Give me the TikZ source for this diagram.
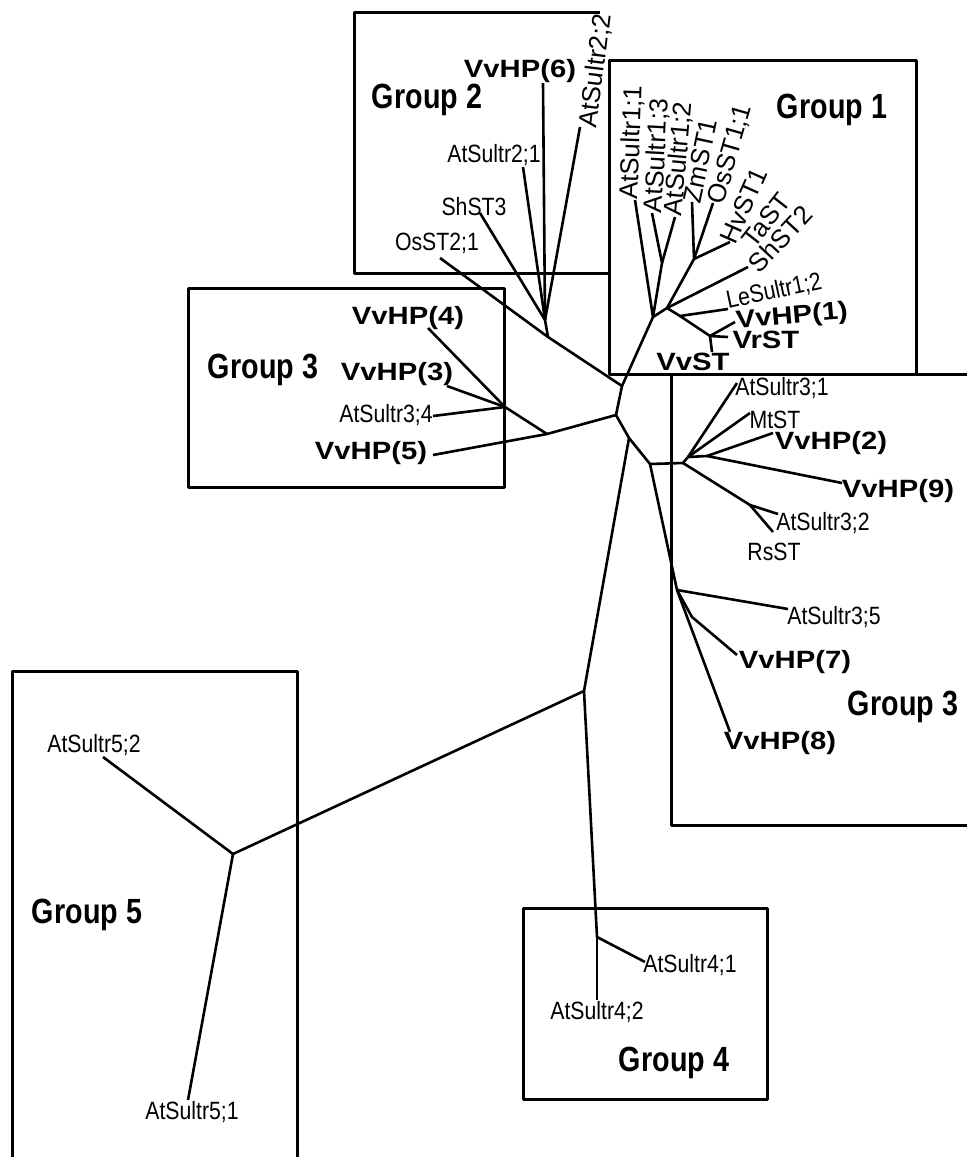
\documentclass[tikz,border=0pt]{standalone}
\usepackage{fontspec}
\setmainfont{Liberation Sans}
\newfontfamily\narrowfont[FakeStretch=0.85]{Liberation Sans}
\newfontfamily\widefont[FakeStretch=1.17]{Liberation Sans}
\newfontfamily\groupfont[FakeStretch=0.82]{Liberation Sans}

\begin{document}
\begin{tikzpicture}[x=1pt, y=-1pt, line width=2.6pt, line join=round,
    box/.style={line width=3pt},
    leaf/.style={font=\narrowfont\fontsize{25}{25}\selectfont, inner sep=0pt},
    tilt/.style={font=\fontsize{26}{26}\selectfont, inner sep=0pt, anchor=west},
    grape/.style={font=\widefont\bfseries\fontsize{25}{25}\selectfont, inner sep=0pt},
    groupname/.style={font=\groupfont\bfseries\fontsize{35}{35}\selectfont, inner sep=0pt}]
	\useasboundingbox (0,0) rectangle (967,1157);

	% Draw the boxes
	\draw[box] (609,60) rectangle (916,374);
	\draw[box] (600,12) -- (354,12) -- (354,273) -- (609,273);
	\draw[box] (188,288) rectangle (504,487);
	\draw[box] (967,374) -- (671,374) -- (671,825) -- (967,825);
	\draw[box] (523,908) rectangle (767,1099);
	\draw[box] (12,1157) -- (12,671) -- (297,671) -- (297,1157);

	\node[groupname] (grp1) at (832,110) {Group 1};
	\node[groupname] (grp2) at (427,100) {Group 2};
	\node[groupname] (grp3a) at (263,370) {Group 3};
	\node[groupname] (grp3b) at (903,707) {Group 3};
	\node[groupname] (grp4) at (674,1063) {Group 4};
	\node[groupname] (grp5) at (87,915) {Group 5};

	% Inner points of the tree
	\coordinate (root) at (622,386);
	\coordinate (mid) at (616,415);
	\coordinate (low) at (629,438);
	\coordinate (right) at (650,464);
	\coordinate (fork) at (584,691);
	\coordinate (g1a) at (653,317);
	\coordinate (g1b) at (662,263);
	\coordinate (g1c) at (667,308);
	\coordinate (g1d) at (694,259);
	\coordinate (g1f) at (680,316);
	\coordinate (g1g) at (710,336);
	\coordinate (g2) at (548,337);
	\coordinate (g2f) at (545,320);
	\coordinate (g3a) at (547,434);
	\coordinate (g3b) at (505,407);
	\coordinate (r1) at (683,463);
	\coordinate (r2) at (688,457);
	\coordinate (r3) at (707,456);
	\coordinate (r4) at (750,505);
	\coordinate (r5) at (677,590);
	\coordinate (r6) at (692,617);
	\coordinate (g4) at (597,937);
	\coordinate (g5) at (233,854);

	% Tips of the branches
	\coordinate (tAt11) at (635,200);
	\coordinate (tAt13) at (652,213);
	\coordinate (tAt12) at (675,217);
	\coordinate (tZm) at (692,202);
	\coordinate (tOs11) at (713,203);
	\coordinate (tHv) at (730,242);
	\coordinate (tSh2) at (748,267);
	\coordinate (tLe) at (728,309);
	\coordinate (tHP1) at (735,322);
	\coordinate (tVr) at (728,337);
	\coordinate (tVv) at (712,352);
	\coordinate (tOs21) at (440,258);
	\coordinate (tSh3) at (480,213);
	\coordinate (tAt21) at (523,167);
	\coordinate (tHP6) at (543,83);
	\coordinate (tAt22) at (580,127);
	\coordinate (tHP4) at (428,328);
	\coordinate (tHP3) at (447,386);
	\coordinate (tAt34) at (433,416);
	\coordinate (tHP5) at (433,455);
	\coordinate (tAt31) at (737,383);
	\coordinate (tMt) at (750,413);
	\coordinate (tHP2) at (773,433);
	\coordinate (tHP9) at (842,483);
	\coordinate (tAt32) at (778,514);
	\coordinate (tRs) at (773,532);
	\coordinate (tAt35) at (788,609);
	\coordinate (tHP7) at (737,655);
	\coordinate (tHP8) at (730,732);
	\coordinate (tAt41) at (645,962);
	\coordinate (tAt42) at (597,1000);
	\coordinate (tAt52) at (103,757);
	\coordinate (tAt51) at (188,1100);

	% Group 1
	\draw (root) -- (g1a) -- (tAt11);
	\draw (g1a) -- (g1b) -- (tAt13);
	\draw (g1b) -- (tAt12);
	\draw (g1a) -- (g1c) -- (g1d) -- (tZm);
	\draw (g1d) -- (tOs11);
	\draw (g1d) -- (tHv);
	\draw (g1c) -- (tSh2);
	\draw (g1c) -- (g1f) -- (tLe);
	\draw (g1f) -- (g1g) -- (tHP1);
	\draw (g1g) -- (tVr);
	\draw (g1g) -- (tVv);

	\node[tilt, rotate=88] (at11) at (630,201) {AtSultr1;1};
	\node[tilt, rotate=87] (at13) at (654,214) {AtSultr1;3};
	\node[tilt, rotate=85] (at12) at (674,217) {AtSultr1;2};
	\node[tilt, rotate=78] (zm) at (691,204) {ZmST1};
	\node[tilt, rotate=74] (os11) at (716,205) {OsST1;1};
	\node[tilt, rotate=66] (hv) at (727,243) {HvST1};
	\node[tilt, rotate=52] (ta) at (747,245) {TaST};
	\node[tilt, rotate=47] (sh2) at (752,269) {ShST2};
	\node[leaf, rotate=12, anchor=base west] (le) at (727,309) {LeSultr1;2};
	\node[grape, rotate=5] (hp1) at (792,317) {VvHP(1)};
	\node[grape] (vr) at (766,340) {VrST};
	\node[grape] (vv) at (693,362) {VvST};

	% Group 2
	\draw (root) -- (g2) -- (tOs21);
	\draw (g2) -- (g2f) -- (tSh3);
	\draw (g2f) -- (tAt21);
	\draw (g2f) -- (tHP6);
	\draw (g2f) -- (tAt22);

	\node[grape] (hp6) at (520,71) {VvHP(6)};
	\node[tilt, rotate=83] (at22) at (589,129) {AtSultr2;2};
	\node[leaf] (at21) at (494,155) {AtSultr2;1};
	\node[leaf] (sh3) at (474,207) {ShST3};
	\node[leaf] (os21) at (437,243) {OsST2;1};

	% Group 3, left
	\draw (root) -- (mid) -- (g3a) -- (tHP5);
	\draw (g3a) -- (g3b) -- (tHP4);
	\draw (g3b) -- (tHP3);
	\draw (g3b) -- (tAt34);

	\node[grape] (hp4) at (408,318) {VvHP(4)};
	\node[grape] (hp3) at (397,374) {VvHP(3)};
	\node[leaf] (at34) at (386,415) {AtSultr3;4};
	\node[grape] (hp5) at (371,453) {VvHP(5)};

	% Group 3, right
	\draw (mid) -- (low) -- (right) -- (r1) -- (r2) -- (tAt31);
	\draw (r2) -- (tMt);
	\draw (r2) -- (r3) -- (tHP2);
	\draw (r3) -- (tHP9);
	\draw (r1) -- (r4) -- (tAt32);
	\draw (r4) -- (tRs);
	\draw (right) -- (r5) -- (tAt35);
	\draw (r5) -- (r6) -- (tHP7);
	\draw (r5) -- (tHP8);

	\node[leaf] (at31) at (782,388) {AtSultr3;1};
	\node[leaf] (mt) at (775,420) {MtST};
	\node[grape] (hp2) at (831,443) {VvHP(2)};
	\node[grape] (hp9) at (898,491) {VvHP(9)};
	\node[leaf] (at32) at (823,523) {AtSultr3;2};
	\node[leaf] (rs) at (774,552) {RsST};
	\node[leaf] (at35) at (834,617) {AtSultr3;5};
	\node[grape] (hp7) at (795,662) {VvHP(7)};
	\node[grape] (hp8) at (780,743) {VvHP(8)};

	% Groups 4 and 5
	\draw (low) -- (fork) -- (g5) -- (tAt52);
	\draw (g5) -- (tAt51);
	\draw (fork) -- (g4) -- (tAt41);
	\draw (g4) -- (tAt42);

	\node[leaf] (at41) at (690,965) {AtSultr4;1};
	\node[leaf] (at42) at (597,1012) {AtSultr4;2};
	\node[leaf] (at52) at (94,745) {AtSultr5;2};
	\node[leaf] (at51) at (192,1112) {AtSultr5;1};

\end{tikzpicture}
\end{document}
